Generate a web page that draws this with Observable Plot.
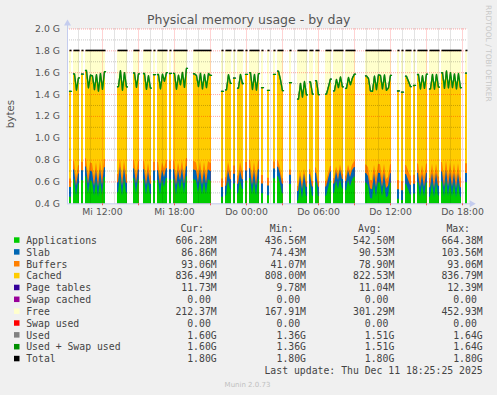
<!DOCTYPE html>
<html>
<head>
<meta charset="utf-8">
<script src="https://cdn.jsdelivr.net/npm/d3@7"></script>
<script src="https://cdn.jsdelivr.net/npm/@observablehq/plot@0.6"></script>
<style>
html,body{margin:0;padding:0;background:#f0f0f0;}
#wrap{position:relative;width:497px;height:395px;overflow:hidden;background:#f0f0f0;}
#wrap svg{position:absolute;left:0;top:0;}
</style>
</head>
<body>
<div id="wrap"></div>
<script>
// ---------- data ----------
const titleText = "Physical memory usage - by day";
const yLabel = "bytes";
const dayNames = ["Mi", "Do"];
// each run of 10-minute samples with data (gaps between runs = no data)
const runStart = ["Mi 09:15","Mi 09:35","Mi 10:15","Mi 10:35","Mi 13:15","Mi 14:35","Mi 15:25","Mi 16:15","Mi 16:35","Mi 17:35","Mi 17:55","Mi 19:35","Mi 21:55","Mi 22:15","Mi 22:55","Mi 23:15","Mi 23:55","Do 00:15","Do 01:15","Do 01:45","Do 02:15","Do 02:35","Do 03:35","Do 04:15","Do 05:15","Do 05:45","Do 06:35","Do 07:15","Do 08:15","Do 09:55","Do 12:35","Do 12:55","Do 13:15","Do 13:55","Do 14:15","Do 15:15","Do 16:15","Do 18:15"];
const runLength = [1,3,1,10,5,3,4,1,5,1,7,9,1,3,1,3,1,5,1,1,1,3,1,5,2,2,3,5,5,13,1,1,3,1,5,5,10,1];
const sampleMinutes = 10;

// values in MiB per sample
const appsM = [471, 634,483,596, 626, 662,501,627,614,480,624,472,636,490,655, 513,657,481,646,510, 644,503,633, 636,491,617,500, 624, 627,493,634,561,646, 633, 636,490,626,531,644,503,664, 634,623,514,636,491,626,500,637,622, 470, 483,624,541, 595, 503,627,544, 623, 646,491,626,481,634, 503, 484, 645, 663,595,504,
  590, 437,582,457,600,478, 592,480, 611,478, 480,551,621, 508,623,541,641,549, 531,633,570,631,661,
  604,575,461,452,596,471,606,604,473,605,463,481,603, 452, 441, 594,544,491, 502, 606,471,594,473,604, 471,605,463,606,483, 616,471,635,473,614,472,606,461,604,471, 606];
const slabM = [92,93,91,92,94,92,93,91,92,95, 93,92,94,91,92,93,95,92,91,93, 92,94,93,92,91,93,92,94,93,92, 91,93,92,95,93,92,91,92,94,93, 92,93,91,92,94,92,93,95,92,91, 93,92,94,93,92,91,93,92,94,92, 91,93,92,94,93,92,90,89,91,90,
  88,87,89,86,88,87,89,88,86,87,88,89,87,88,86,88,87,89,88,87,86,88,89,
  90,91,89,90,92,89,91,90,89,91, 90,92,89,90,91,90,89,92,91,90, 89,91,90,92,89,90,91,89,90,92, 90,89,91,90,92,89,90,91,90, 87];
const buffersM = [78,79,77,78,80,78,79,77,78,81, 79,78,80,77,78,79,81,78,77,79, 78,80,79,78,77,79,78,80,79,78, 77,79,78,81,79,78,77,78,80,79, 78,79,77,78,80,78,79,81,78,77, 79,78,80,79,78,77,79,78,80,78, 77,79,78,80,79,74,66,58,54,50,
  49,48,50,47,49,48,50,51,49,48,50,49,51,50,48,52,50,49,51,53,50,52,54,
  80,82,81,83,82,84,83,82,85,84, 83,85,84,86,85,84,86,87,85,86, 87,86,88,87,86,88,89,87,88,89, 90,89,91,90,92,91,90,92,91, 93];
const cachedM = [812,811,813,812,814,816,812,811,813,812, 814,812,811,813,812,811,813,812,814,812, 811,813,812,814,812,811,813,812,811,813, 812,814,812,811,813,812,811,813,812,814, 834,812,811,813,812,814,812,811,813,812, 811,813,812,814,812,811,813,812,814,812, 811,813,812,811,813,812,811,833,824,816,
  808,809,808,810,809,808,811,809,808,810,809,808,810,811,809,808,810,809,811,810,809,808,810,
  824,826,825,827,826,825,827,826,828,826, 825,827,826,828,827,826,828,827,829,828, 827,829,828,830,829,828,830,829,831,830, 829,831,830,832,831,830,833,832,834, 836];
const pageTablesM = [11.2,11.1,11.3,11.0,11.2,11.4,11.1,11.2,11.0,11.3, 11.2,11.1,11.3,11.2,11.0,11.4,11.2,11.1,11.3,11.2, 11.1,11.3,11.2,11.0,11.2,11.4,11.1,11.2,11.3,11.1, 11.2,11.0,11.3,11.2,11.1,11.4,11.2,11.3,11.1,12.4, 11.2,11.1,11.3,11.2,11.0,11.2,11.4,11.1,11.2,11.3, 11.1,11.2,11.0,11.3,11.2,11.1,11.3,11.2,11.0,11.2, 11.1,11.3,11.2,10.8,10.6,10.4,10.5,10.3,10.2,10.1,
  10.0,9.9,10.1,9.8,10.0,10.2,9.9,10.1,10.0,9.9,10.2,10.1,10.0,10.3,10.1,10.2,10.4,10.3,10.5,10.4,10.6,10.5,10.7,
  11.0,11.2,11.1,11.3,11.2,11.4,11.3,11.2,11.5,11.4, 11.3,11.5,11.4,11.6,11.5,11.4,11.6,11.5,11.7,11.6, 11.5,11.7,11.6,11.8,11.7,11.6,11.8,11.7,11.9,11.8, 11.7,11.9,11.8,12.0,11.9,11.8,12.1,12.0,11.9, 11.7];
const totalM = 1846.8;

// axis ticks
const yTicks = [0.4, 0.6, 0.8, 1.0, 1.2, 1.4, 1.6, 1.8, 2.0];
const yMinor = [0.5, 0.7, 0.9, 1.1, 1.3, 1.5, 1.7, 1.9];
const xLabelTicks = [12, 18, 24, 30, 36, 42];
const xMajor = [12, 15, 18, 21, 24, 27, 30, 33, 36, 39, 42];
const xMinor = [10, 11, 13, 14, 16, 17, 19, 20, 22, 23, 25, 26, 28, 29, 31, 32, 34, 35, 37, 38, 40, 41];
const xDomain = [9 + 5/60, 42 + 25/60];

// legend
const legendNames = ["Applications","Slab","Buffers","Cached","Page tables","Swap cached","Free","Swap used","Used","Used + Swap used","Total"];
const legendColors = ["#00cc00","#0066b3","#ff8000","#ffcc00","#330099","#990099","#ffffcc","#ff0000","#808080","#008f00","#000000"];
const legendHeaders = ["Cur:","Min:","Avg:","Max:"];
const curVals = ["606.28M","86.86M","93.06M","836.49M","11.73M","0.00","212.37M","0.00","1.60G","1.60G","1.80G"];
const minVals = ["436.56M","74.43M","41.07M","808.00M","9.78M","0.00","167.91M","0.00","1.36G","1.36G","1.80G"];
const avgVals = ["542.50M","90.53M","78.90M","822.53M","11.04M","0.00","301.29M","0.00","1.51G","1.51G","1.80G"];
const maxVals = ["664.38M","103.56M","93.06M","836.79M","12.39M","0.00","452.93M","0.00","1.64G","1.64G","1.80G"];
const lastUpdate = "Last update: Thu Dec 11 18:25:25 2025";
const muninVersion = "Munin 2.0.73";
const sideText = "RRDTOOL / TOBI OETIKER";

// ---------- build samples ----------
function parseT(s) {
  const [d, hm] = s.split(" ");
  const [h, m] = hm.split(":").map(Number);
  return dayNames.indexOf(d) * 24 + h + m / 60;
}
const step = sampleMinutes / 60;
const G = v => v / 1024;
const samples = [];
let k = 0;
runStart.forEach((s, r) => {
  const t0 = parseT(s);
  for (let j = 0; j < runLength[r]; j++, k++) {
    const c1 = G(appsM[k]);
    const c2 = c1 + G(slabM[k]);
    const c3 = c2 + G(buffersM[k]);
    const c4 = c3 + G(cachedM[k]);
    const c5 = c4 + G(pageTablesM[k]);
    samples.push({run: r, t1: t0 + j * step, t2: t0 + (j + 1) * step, c1, c2, c3, c4, c5, total: G(totalM)});
  }
});
// points: run start edge, sample centres, run end edge
const pts = [];
runStart.forEach((s, r) => {
  const ss = samples.filter(d => d.run === r);
  pts.push({...ss[0], x: ss[0].t1});
  ss.forEach(d => pts.push({...d, x: (d.t1 + d.t2) / 2}));
  const l = ss[ss.length - 1];
  pts.push({...l, x: l.t2});
});
const runs = runStart.map((s, r) => {
  const ss = samples.filter(d => d.run === r);
  return {x1: ss[0].t1, x2: ss[ss.length - 1].t2, total: G(totalM)};
});

const pad = n => String(n).padStart(2, "0");
const fmtX = h => `${dayNames[Math.floor(h / 24)]} ${pad(h % 24)}:00`;

const layer = (key, color) => Plot.areaY(pts, {x: "x", y1: 0, y2: key, z: "run", fill: color, clip: true});
const axisCol = "#c4ccee";

const chart = Plot.plot({
  width: 497, height: 222,
  marginLeft: 67, marginRight: 30, marginTop: 28.5, marginBottom: 18.7,
  x: {domain: xDomain},
  y: {domain: [0.4, 2.0]},
  style: {background: "transparent", color: "#555", fontFamily: "'DejaVu Sans', sans-serif", fontSize: "9.3px", overflow: "visible"},
  marks: [
    Plot.frame({fill: "white", stroke: "none"}),
    layer("total", "#ffffcc"),
    layer("c5", "#330099"),
    layer("c4", "#ffcc00"),
    layer("c3", "#ff8000"),
    layer("c2", "#0066b3"),
    layer("c1", "#00cc00"),
    Plot.ruleY(yMinor, {stroke: "#000", strokeOpacity: 0.22, strokeDasharray: "1,1"}),
    Plot.ruleX(xMinor, {stroke: "#000", strokeOpacity: 0.22, strokeDasharray: "1,1"}),
    Plot.ruleY(yTicks.slice(1), {stroke: "#f00", strokeOpacity: 0.35, strokeDasharray: "1,1"}),
    Plot.ruleX(xMajor, {stroke: "#f00", strokeOpacity: 0.35, strokeDasharray: "1,1"}),
    Plot.line(pts, {x: "x", y: "c5", z: "run", stroke: "#808080", strokeWidth: 1.3, clip: true}),
    Plot.line(pts, {x: "x", y: "c5", z: "run", stroke: "#008f00", strokeWidth: 1.3, clip: true}),
    Plot.link(runs, {x1: "x1", x2: "x2", y1: "total", y2: "total", stroke: "#000", strokeWidth: 1.6}),
    // axes lines and arrows
    Plot.ruleX([xDomain[0]], {y1: 0.4, y2: 2.04, stroke: axisCol}),
    Plot.ruleY([0.4], {x1: xDomain[0], x2: xDomain[1] + 0.3, stroke: axisCol}),
    Plot.dot([0], {x: xDomain[0], y: 2.05, symbol: "triangle", r: 2.6, fill: axisCol, stroke: "none"}),
    Plot.dot([0], {x: xDomain[1] + 0.35, y: 0.4, symbol: "triangle", r: 2.6, fill: axisCol, stroke: "none", rotate: 90}),
    Plot.axisX({ticks: xMajor, tickSize: 2, stroke: "#e55", text: null, label: null}),
    Plot.axisX({ticks: xLabelTicks, tickFormat: fmtX, tickSize: 0, tickPadding: 4.5, fontSize: 9.3, label: null}),
    Plot.axisY({ticks: yTicks, tickFormat: d => d.toFixed(1) + " G", tickSize: 0, tickPadding: 7.5, fontSize: 9.3, label: null})
  ]
});
wrap.appendChild(chart);

// ---------- title, labels, legend ----------
const svg = d3.select(wrap).append("svg").attr("width", 497).attr("height", 395)
  .style("pointer-events", "none");
svg.append("text").attr("x", 248.7).attr("y", 23.5).attr("text-anchor", "middle")
  .attr("font-family", "'DejaVu Sans', sans-serif").attr("font-size", 12.5).attr("fill", "#555").text(titleText);
svg.append("text").attr("transform", "translate(13.5,114) rotate(-90)").attr("text-anchor", "middle")
  .attr("font-family", "'DejaVu Sans', sans-serif").attr("font-size", 10.3).attr("fill", "#555").text(yLabel);
svg.append("text").attr("transform", "translate(485.5,5) rotate(90)").attr("text-anchor", "start")
  .attr("font-family", "'DejaVu Sans', sans-serif").attr("font-size", 7.5).attr("fill", "#c8c8c8").text(sideText);

const mono = "'DejaVu Sans Mono', monospace";
const fs = 9.8, charW = 5.9;
const colEnds = [216.7, 306, 394.3, 482.7];
const base0 = 243.8, rowH = 11.85;
legendHeaders.forEach((h, i) => {
  svg.append("text").attr("x", colEnds[i] - 12.7).attr("y", base0 - rowH).attr("text-anchor", "end")
    .attr("font-family", mono).attr("font-size", fs).attr("fill", "#444").text(h);
});
const cols = [curVals, minVals, avgVals, maxVals];
legendNames.forEach((name, r) => {
  const y = base0 + r * rowH;
  svg.append("rect").attr("x", 14).attr("y", y - 6.5).attr("width", 5.5).attr("height", 5.5).attr("fill", legendColors[r]);
  svg.append("text").attr("x", 26.2).attr("y", y).attr("font-family", mono).attr("font-size", fs).attr("fill", "#444").text(name);
  cols.forEach((c, i) => {
    const v = c[r];
    const hasUnit = /[A-Za-z]$/.test(v);
    svg.append("text").attr("x", colEnds[i] - (hasUnit ? 0 : charW)).attr("y", y).attr("text-anchor", "end")
      .attr("font-family", mono).attr("font-size", fs).attr("fill", "#444").text(v);
  });
});
svg.append("text").attr("x", colEnds[3]).attr("y", base0 + legendNames.length * rowH).attr("text-anchor", "end")
  .attr("font-family", mono).attr("font-size", fs).attr("fill", "#444").text(lastUpdate);
svg.append("text").attr("x", 247.5).attr("y", 386.5).attr("text-anchor", "middle")
  .attr("font-family", "'DejaVu Sans', sans-serif").attr("font-size", 7).attr("fill", "#c0c0c0").text(muninVersion);
</script>
</body>
</html>
